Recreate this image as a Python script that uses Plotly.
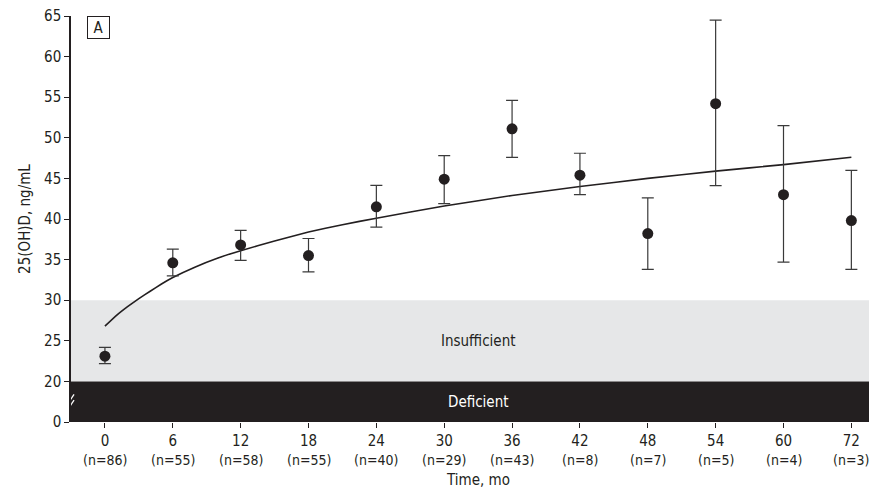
import numpy as np
import plotly.graph_objects as go

# ---- data ----
months = [0, 6, 12, 18, 24, 30, 36, 42, 48, 54, 60, 72]
n_counts = [86, 55, 58, 55, 40, 29, 43, 8, 7, 5, 4, 3]
mean_vals = [23.1, 34.6, 36.8, 35.5, 41.5, 44.9, 51.1, 45.4, 38.2, 54.2, 43.0, 39.8]
upper_vals = [24.2, 36.3, 38.6, 37.6, 44.15, 47.8, 54.6, 48.1, 42.6, 64.5, 51.5, 46.0]
lower_vals = [22.2, 33.0, 34.9, 33.5, 39.0, 41.9, 47.6, 43.0, 33.8, 44.1, 34.7, 33.8]

fit_months = [0, 1, 2, 3, 4, 5, 6, 8, 10, 12, 15, 18, 21, 24, 30, 36, 42, 48, 54, 60, 72]
fit_vals = [26.8, 28.1, 29.2, 30.2, 31.1, 32.0, 32.8, 34.1, 35.2, 36.1, 37.3, 38.4,
            39.3, 40.1, 41.6, 42.9, 44.0, 45.0, 45.9, 46.7, 47.6]

y_tick_vals = [0, 20, 25, 30, 35, 40, 45, 50, 55, 60, 65]
band_insufficient = (20, 30)
band_deficient = (0, 20)

FONT = "Liberation Sans Narrow, DejaVu Sans Condensed, Arial Narrow, sans-serif"
DARK = "#231f20"

# categorical positions (equal spacing) for time points
idx = list(range(len(months)))


def xpos(m):
    return float(np.interp(m, months, idx))


def ypos(v):
    # axis break: 0-20 compressed into one 5-unit interval
    return v if v >= 20 else 15 + v * 5.0 / 20.0


fig = go.Figure()

# bands
fig.add_shape(type="rect", xref="paper", yref="y", x0=0, x1=1,
              y0=ypos(band_insufficient[0]), y1=ypos(band_insufficient[1]),
              fillcolor="#e6e7e8", line_width=0, layer="below")
fig.add_shape(type="rect", xref="paper", yref="y", x0=0, x1=1,
              y0=ypos(band_deficient[0]), y1=ypos(band_deficient[1]),
              fillcolor=DARK, line_width=0, layer="below")

# fitted curve
fig.add_trace(go.Scatter(
    x=[xpos(m) for m in fit_months], y=[ypos(v) for v in fit_vals],
    mode="lines", line=dict(color=DARK, width=1.6, shape="spline", smoothing=0.3),
    hoverinfo="skip", showlegend=False))

# means with error bars
fig.add_trace(go.Scatter(
    x=[xpos(m) for m in months], y=[ypos(v) for v in mean_vals],
    mode="markers",
    marker=dict(color=DARK, size=11),
    error_y=dict(type="data", symmetric=False,
                 array=[u - m for u, m in zip(upper_vals, mean_vals)],
                 arrayminus=[m - l for m, l in zip(mean_vals, lower_vals)],
                 color="#3a3a3a", thickness=1.2, width=6),
    showlegend=False))

# band labels
mid = 5.5
fig.add_annotation(x=mid, y=(ypos(20) + ypos(30)) / 2, text="Insufficient",
                   showarrow=False, font=dict(family=FONT, size=15, color=DARK))
fig.add_annotation(x=mid, y=(ypos(0) + ypos(20)) / 2, text="Deficient",
                   showarrow=False, font=dict(family=FONT, size=15, color="white"))

# n counts under tick labels
for i, n in zip(idx, n_counts):
    fig.add_annotation(x=i, y=0, xref="x", yref="paper", yanchor="top",
                       yshift=-28, text=f"(n={n})", showarrow=False,
                       font=dict(family=FONT, size=14, color=DARK))

# x title
fig.add_annotation(x=mid, y=0, xref="x", yref="paper", yanchor="top", yshift=-47,
                   text="Time, mo", showarrow=False,
                   font=dict(family=FONT, size=15, color=DARK))

# panel label
fig.add_annotation(x=0.02, y=1, xref="paper", yref="paper", text="A",
                   showarrow=False, bordercolor=DARK, borderwidth=1, borderpad=1,
                   width=19, height=19, align="center", valign="middle",
                   xanchor="left", yanchor="top",
                   font=dict(family=FONT, size=15, color=DARK))

# axis break marks (two light slashes across the axis)
bx, by = -0.5, ypos(10)
dx, dy = 0.045, 0.55
for off in (-0.35, 0.35):
    fig.add_shape(type="line", xref="x", yref="y",
                  x0=bx - dx, y0=by - dy + off, x1=bx + dx, y1=by + dy + off,
                  line=dict(color="white", width=1.3), layer="above")

fig.update_layout(
    width=870, height=491,
    margin=dict(l=71, r=1, t=16, b=69),
    paper_bgcolor="white", plot_bgcolor="white",
    font=dict(family=FONT, size=15, color=DARK),
    xaxis=dict(range=[-0.5, 11.26], tickmode="array", tickvals=idx,
               ticktext=[str(m) for m in months], ticks="outside", ticklen=5,
               tickcolor=DARK, showline=False, showgrid=False, zeroline=False,
               tickfont=dict(family=FONT, size=15, color=DARK)),
    yaxis=dict(range=[15, 65], tickmode="array",
               tickvals=[ypos(v) for v in y_tick_vals],
               ticktext=[str(v) for v in y_tick_vals], ticks="outside", ticklen=5,
               tickcolor=DARK, showline=True, linecolor=DARK, linewidth=1.5,
               showgrid=False, zeroline=False,
               title=dict(text="25(OH)D, ng/mL", standoff=10,
                          font=dict(family=FONT, size=15, color=DARK)),
               tickfont=dict(family=FONT, size=15, color=DARK)),
)

fig.write_html("out.html")
